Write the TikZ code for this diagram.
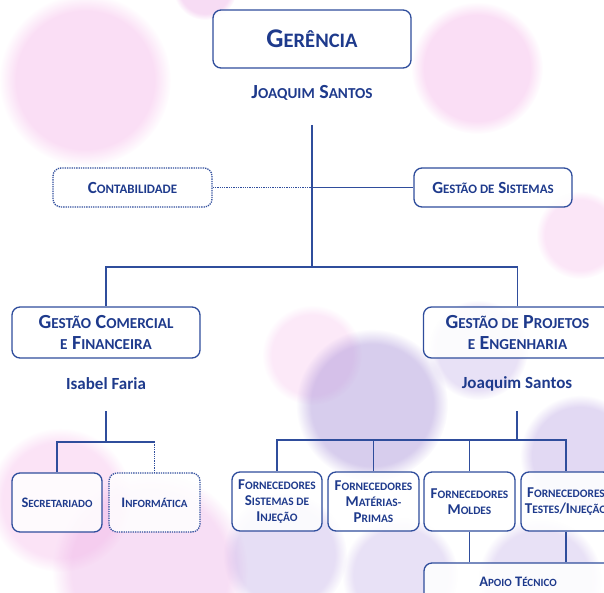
\documentclass[tikz,border=0pt]{standalone}
\usepackage{fontspec}
\setmainfont{Carlito}
\usetikzlibrary{fadings}
\definecolor{textblue}{HTML}{1E3A8C}
\definecolor{lineblue}{HTML}{2F4D9C}
\definecolor{blobpink}{HTML}{F7C8EE}
\definecolor{blobmag}{HTML}{EBA8E4}
\definecolor{blobpurp}{HTML}{B49CE0}
\definecolor{blobdark}{HTML}{A088D4}
\newdimen\smcdim
\makeatletter
\newcommand\smc[1]{{\smcdim=\f@size pt\smcdim=0.76\smcdim\fontsize{\smcdim}{\smcdim}\selectfont #1}}
\makeatother
\newcommand\fs[2]{\fontsize{#1}{#2}\selectfont}
\tikzset{
  box/.style={draw=lineblue, line width=1.3pt, rounded corners=8pt, fill=white, fill opacity=0.85, text opacity=1, align=center, text=textblue, inner sep=0pt, font=\bfseries},
  dotbox/.style={box, densely dotted},
  lbl/.style={text=textblue, font=\bfseries, inner sep=0pt},
  conn/.style={draw=lineblue, line width=1.3pt},
  dotconn/.style={conn, densely dotted},
  blob/.style={path fading=circle with fuzzy edge 20 percent}
}
\begin{document}
\begin{tikzpicture}[x=1pt,y=-1pt]
\useasboundingbox (0,0) rectangle (604,593);
\clip (0,0) rectangle (604,593);
% background blobs
\fill[blobpink, opacity=0.6, blob] (85,80) circle (86);
\fill[blobmag, opacity=0.4, blob] (205,-12) circle (32);
\fill[blobpink, opacity=0.6, blob] (477,68) circle (66);
\fill[blobpink, opacity=0.45, blob] (580,235) circle (44);
\fill[blobpink, opacity=0.4, blob] (312,355) circle (50);
\fill[blobpurp, opacity=0.3, blob] (478,350) circle (50);
\fill[blobdark, opacity=0.42, blob] (372,405) circle (76);
\fill[blobpurp, opacity=0.38, blob] (580,455) circle (60);
\fill[blobpink, opacity=0.5, blob] (60,500) circle (72);
\fill[blobmag, opacity=0.38, blob] (150,570) circle (98);
\fill[blobpurp, opacity=0.33, blob] (285,555) circle (62);
\fill[blobpurp, opacity=0.3, blob] (400,575) circle (58);
\fill[blobpurp, opacity=0.3, blob] (540,580) circle (62);

% nodes
\node[box, minimum width=198pt, minimum height=58pt, font=\bfseries\fs{27}{27}] (ger) at (312,39) {G\smc{ERÊNCIA}};
\node[lbl, font=\bfseries\fs{20}{20}] (joa1) at (312,93) {J\smc{OAQUIM} S\smc{ANTOS}};
\node[dotbox, minimum width=159pt, minimum height=39pt, font=\bfseries\fs{17}{17}] (contab) at (132.5,187.5) {C\smc{ONTABILIDADE}};
\node[box, minimum width=158pt, minimum height=39pt, font=\bfseries\fs{17}{17}] (gsist) at (493,187.5) {G\smc{ESTÃO DE} S\smc{ISTEMAS}};
\node[box, minimum width=188pt, minimum height=51pt, font=\bfseries\fs{20}{20.5}] (gcom) at (106,332.5) {G\smc{ESTÃO} C\smc{OMERCIAL}\\ \smc{E} F\smc{INANCEIRA}};
\node[box, minimum width=188pt, minimum height=51pt, font=\bfseries\fs{20}{20.5}] (gproj) at (517.5,332.5) {G\smc{ESTÃO DE} P\smc{ROJETOS}\\ \smc{E} E\smc{NGENHARIA}};
\node[lbl, font=\bfseries\fs{17}{17}] (isa) at (106,384) {Isabel Faria};
\node[lbl, font=\bfseries\fs{17}{17}] (joa2) at (517,384) {Joaquim Santos};
\node[box, minimum width=90pt, minimum height=59pt, font=\bfseries\fs{14.5}{14.5}] (secr) at (57,502.5) {S\smc{ECRETARIADO}};
\node[dotbox, minimum width=91pt, minimum height=59pt, font=\bfseries\fs{14.5}{14.5}] (info) at (154.5,502.5) {I\smc{NFORMÁTICA}};
\node[box, minimum width=90pt, minimum height=59pt, font=\bfseries\fs{15}{16.2}] (f1) at (277,501.5) {F\smc{ORNECEDORES}\\ S\smc{ISTEMAS DE}\\ I\smc{NJEÇÃO}};
\node[box, minimum width=91pt, minimum height=59pt, font=\bfseries\fs{15}{16.2}] (f2) at (373.5,501.5) {F\smc{ORNECEDORES}\\ M\smc{ATÉRIAS-}\\ P\smc{RIMAS}};
\node[box, minimum width=91pt, minimum height=59pt, font=\bfseries\fs{15}{16.2}] (f3) at (469.5,501.5) {F\smc{ORNECEDORES}\\ M\smc{OLDES}};
\node[box, minimum width=90pt, minimum height=59pt, font=\bfseries\fs{15}{16.2}] (f4) at (566,501.5) {F\smc{ORNECEDORES}\\ T\smc{ESTES}/I\smc{NJEÇÃO}};
\node[box, minimum width=188pt, minimum height=38pt, font=\bfseries\fs{14.5}{14.5}] (apoio) at (518,582) {A\smc{POIO} T\smc{ÉCNICO}};

% connectors
\coordinate (t1) at (312,125);
\coordinate (j1) at (312,187.5);
\coordinate (h1) at (312,267);
\draw[conn] (t1) -- (h1);
\draw[dotconn] (contab.east) -- (j1);
\draw[conn] (j1) -- (gsist.west);
\draw[conn] (h1) -| (gcom.north);
\draw[conn] (h1) -| (gproj.north);

\coordinate (t2) at (106,411);
\coordinate (h2) at (106,442);
\coordinate (c2) at (info.north |- h2);
\draw[conn] (t2) -- (h2) -| (secr.north);
\draw[conn] (h2) -- (c2);
\draw[dotconn] (c2) -- (info.north);

\coordinate (t3) at (517,411);
\coordinate (h3) at (517,440);
\draw[conn] (t3) -- (h3);
\draw[conn] (h3) -| (f1.north);
\draw[conn] (h3) -| (f2.north);
\draw[conn] (h3) -| (f3.north);
\draw[conn] (h3) -| (f4.north);
\draw[conn] (f3.south) -- (f3.south |- apoio.north);
\draw[conn] (f4.south) -- (f4.south |- apoio.north);
\end{tikzpicture}
\end{document}
